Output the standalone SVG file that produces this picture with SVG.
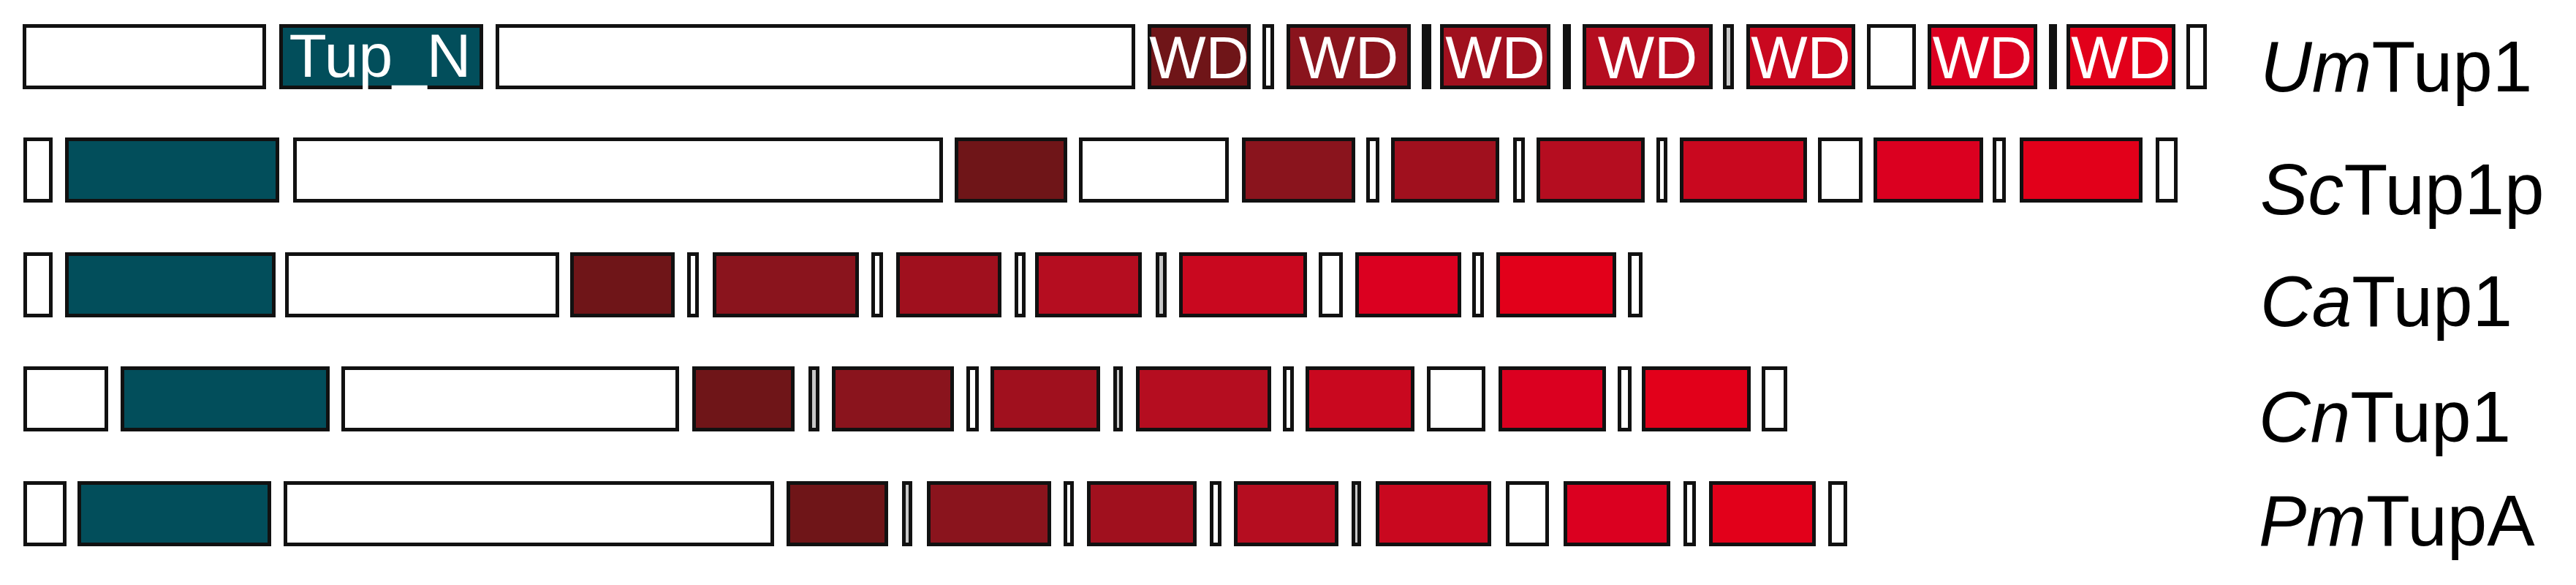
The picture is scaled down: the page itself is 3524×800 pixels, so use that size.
<svg xmlns="http://www.w3.org/2000/svg" width="3524" height="800" viewBox="0 0 3524 800">
<style>
rect{stroke:#111;stroke-width:5}
.w{fill:#fff}
.t{fill:#024E5B}
.g{fill:#c8c8c8}
.b{fill:#111}
.c1{fill:#6F1518}
.c2{fill:#8A141D}
.c3{fill:#A0101E}
.c4{fill:#B50D20}
.c5{fill:#C9081F}
.c6{fill:#DB0020}
.c7{fill:#E2001A}
.in{font-family:"Liberation Sans",Arial,sans-serif;fill:#fff;text-anchor:middle}
.wd{font-size:82px}
.lbl{font-family:"Liberation Sans",Arial,sans-serif;font-size:98px;fill:#000}
</style>
<rect width="3524" height="800" fill="#fff" style="stroke:none"/>
<g id="connectors"/>
<g id="UmTup1">
<rect class="w" x="33.5" y="35.5" width="328" height="84"/>
<rect class="t" x="384.5" y="35.5" width="274" height="84"/>
<rect class="w" x="680.5" y="35.5" width="870" height="84"/>
<rect class="c1" x="1572.5" y="35.5" width="136" height="84"/>
<rect class="w" x="1729.5" y="35.5" width="11" height="84"/>
<rect class="c2" x="1762.5" y="35.5" width="165" height="84"/>
<rect class="b" x="1947.5" y="35.5" width="8" height="84"/>
<rect class="c3" x="1972.5" y="35.5" width="146" height="84"/>
<rect class="b" x="2140.5" y="35.5" width="6" height="84"/>
<rect class="c4" x="2167.5" y="35.5" width="173" height="84"/>
<rect class="g" x="2359.5" y="35.5" width="10" height="84"/>
<rect class="c5" x="2391.5" y="35.5" width="144" height="84"/>
<rect class="w" x="2556.5" y="35.5" width="62" height="84"/>
<rect class="c6" x="2639.5" y="35.5" width="145" height="84"/>
<rect class="b" x="2805.5" y="35.5" width="6" height="84"/>
<rect class="c7" x="2829.5" y="35.5" width="144" height="84"/>
<rect class="w" x="2993.5" y="35.5" width="23" height="84"/>
<text class="in" x="520" y="105" font-size="84">Tup_N</text>
<text class="in wd" x="1640.5" y="107">WD</text>
<text class="in wd" x="1845" y="107">WD</text>
<text class="in wd" x="2045.5" y="107">WD</text>
<text class="in wd" x="2254" y="107">WD</text>
<text class="in wd" x="2463.5" y="107">WD</text>
<text class="in wd" x="2712" y="107">WD</text>
<text class="in wd" x="2901.5" y="107">WD</text>
<text class="lbl" x="3092" y="125"><tspan font-style="italic">Um</tspan>Tup1</text>
</g>
<g id="ScTup1p">
<rect class="w" x="34.5" y="190.5" width="35" height="84"/>
<rect class="t" x="91.5" y="190.5" width="288" height="84"/>
<rect class="w" x="403.5" y="190.5" width="884" height="84"/>
<rect class="c1" x="1308.5" y="190.5" width="149" height="84"/>
<rect class="w" x="1478.5" y="190.5" width="200" height="84"/>
<rect class="c2" x="1701.5" y="190.5" width="150" height="84"/>
<rect class="w" x="1871.5" y="190.5" width="13" height="84"/>
<rect class="c3" x="1905.5" y="190.5" width="143" height="84"/>
<rect class="w" x="2072.5" y="190.5" width="11" height="84"/>
<rect class="c4" x="2104.5" y="190.5" width="143" height="84"/>
<rect class="w" x="2268.5" y="190.5" width="10" height="84"/>
<rect class="c5" x="2300.5" y="190.5" width="169" height="84"/>
<rect class="w" x="2489.5" y="190.5" width="56" height="84"/>
<rect class="c6" x="2565.5" y="190.5" width="145" height="84"/>
<rect class="w" x="2728.5" y="190.5" width="13" height="84"/>
<rect class="c7" x="2765.5" y="190.5" width="163" height="84"/>
<rect class="w" x="2951.5" y="190.5" width="25" height="84"/>
<text class="lbl" x="3092" y="293"><tspan font-style="italic">Sc</tspan>Tup1p</text>
</g>
<g id="CaTup1">
<rect class="w" x="34.5" y="347.5" width="35" height="84"/>
<rect class="t" x="91.5" y="347.5" width="283" height="84"/>
<rect class="w" x="392.5" y="347.5" width="370" height="84"/>
<rect class="c1" x="782.5" y="347.5" width="138" height="84"/>
<rect class="w" x="942.5" y="347.5" width="11" height="84"/>
<rect class="c2" x="977.5" y="347.5" width="195" height="84"/>
<rect class="w" x="1194.5" y="347.5" width="11" height="84"/>
<rect class="c3" x="1228.5" y="347.5" width="139" height="84"/>
<rect class="w" x="1390.5" y="347.5" width="10" height="84"/>
<rect class="c4" x="1418.5" y="347.5" width="141" height="84"/>
<rect class="g" x="1583.5" y="347.5" width="10" height="84"/>
<rect class="c5" x="1615.5" y="347.5" width="170" height="84"/>
<rect class="w" x="1806.5" y="347.5" width="28" height="84"/>
<rect class="c6" x="1856.5" y="347.5" width="140" height="84"/>
<rect class="w" x="2016.5" y="347.5" width="11" height="84"/>
<rect class="c7" x="2049.5" y="347.5" width="159" height="84"/>
<rect class="w" x="2229.5" y="347.5" width="15" height="84"/>
<text class="lbl" x="3092" y="446"><tspan font-style="italic">Ca</tspan>Tup1</text>
</g>
<g id="CnTup1">
<rect class="w" x="34.5" y="503.5" width="111" height="84"/>
<rect class="t" x="167.5" y="503.5" width="281" height="84"/>
<rect class="w" x="469.5" y="503.5" width="457" height="84"/>
<rect class="c1" x="949.5" y="503.5" width="135" height="84"/>
<rect class="g" x="1108.5" y="503.5" width="10" height="84"/>
<rect class="c2" x="1140.5" y="503.5" width="162" height="84"/>
<rect class="w" x="1324.5" y="503.5" width="12" height="84"/>
<rect class="c3" x="1357.5" y="503.5" width="145" height="84"/>
<rect class="g" x="1525.5" y="503.5" width="8" height="84"/>
<rect class="c4" x="1556.5" y="503.5" width="180" height="84"/>
<rect class="w" x="1757.5" y="503.5" width="10" height="84"/>
<rect class="c5" x="1788.5" y="503.5" width="144" height="84"/>
<rect class="w" x="1954.5" y="503.5" width="75" height="84"/>
<rect class="c6" x="2052.5" y="503.5" width="142" height="84"/>
<rect class="w" x="2215.5" y="503.5" width="14" height="84"/>
<rect class="c7" x="2248.5" y="503.5" width="144" height="84"/>
<rect class="w" x="2412.5" y="503.5" width="30" height="84"/>
<text class="lbl" x="3090" y="604"><tspan font-style="italic">Cn</tspan>Tup1</text>
</g>
<g id="PmTupA">
<rect class="w" x="34.5" y="660.5" width="54" height="84"/>
<rect class="t" x="108.5" y="660.5" width="260" height="84"/>
<rect class="w" x="390.5" y="660.5" width="666" height="84"/>
<rect class="c1" x="1078.5" y="660.5" width="134" height="84"/>
<rect class="g" x="1236.5" y="660.5" width="9" height="84"/>
<rect class="c2" x="1270.5" y="660.5" width="165" height="84"/>
<rect class="w" x="1457.5" y="660.5" width="9" height="84"/>
<rect class="c3" x="1489.5" y="660.5" width="145" height="84"/>
<rect class="w" x="1657.5" y="660.5" width="11" height="84"/>
<rect class="c4" x="1690.5" y="660.5" width="138" height="84"/>
<rect class="g" x="1851.5" y="660.5" width="8" height="84"/>
<rect class="c5" x="1884.5" y="660.5" width="153" height="84"/>
<rect class="w" x="2062.5" y="660.5" width="54" height="84"/>
<rect class="c6" x="2141.5" y="660.5" width="141" height="84"/>
<rect class="w" x="2305.5" y="660.5" width="12" height="84"/>
<rect class="c7" x="2340.5" y="660.5" width="141" height="84"/>
<rect class="w" x="2503.5" y="660.5" width="21" height="84"/>
<text class="lbl" x="3090" y="746"><tspan font-style="italic">Pm</tspan>TupA</text>
</g>
</svg>
